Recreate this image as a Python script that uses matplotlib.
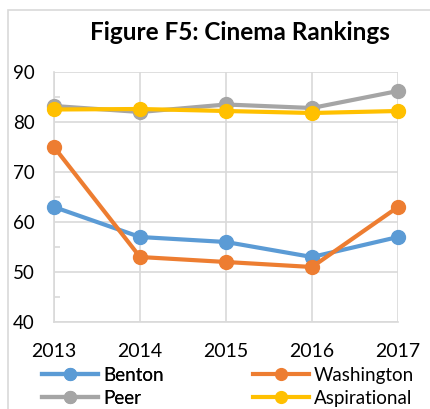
import matplotlib
matplotlib.use("Agg")
import matplotlib.pyplot as plt
from matplotlib.patches import Rectangle
from matplotlib.ticker import MultipleLocator

years = [2013, 2014, 2015, 2016, 2017]
benton = [63, 57, 56, 53, 57]
washington = [75, 53, 52, 51, 63]
peer = [83.2, 82.0, 83.5, 82.8, 86.2]
aspirational = [82.5, 82.6, 82.2, 81.8, 82.2]

series = [
    ("Benton", benton, "#5B9BD5"),
    ("Washington", washington, "#ED7D31"),
    ("Peer", peer, "#A5A5A5"),
    ("Aspirational", aspirational, "#FFC000"),
]

plt.rcParams['font.family'] = ['Lato', 'DejaVu Sans']

W, H = 431, 409
fig = plt.figure(figsize=(W / 100, H / 100), dpi=100)
fig.patch.set_facecolor("white")

# outer chart border
fig.patches.append(Rectangle((8 / W, -0.1), 1.2, (H - 10) / H + 0.1,
                             transform=fig.transFigure, fill=False,
                             edgecolor="#D9D9D9", linewidth=1.2))

ax = fig.add_axes([54 / W, (H - 322) / H, (398 - 54) / W, (322 - 72) / H])
ax.set_xlim(2013, 2017)
ax.set_ylim(40, 90)

handles = {}
for name, vals, col in series:
    h, = ax.plot(years, vals, color=col, linewidth=3, marker="o",
                 markersize=10, label=name, clip_on=False, zorder=3)
    handles[name] = h

ax.set_xticks(years)
ax.set_yticks([40, 50, 60, 70, 80, 90])
ax.yaxis.set_minor_locator(MultipleLocator(5))
ax.grid(True, which="major", color="#D9D9D9", linewidth=1.2)
ax.set_axisbelow(True)
for s in ["top", "right"]:
    ax.spines[s].set_visible(False)
for s in ["left", "bottom"]:
    ax.spines[s].set_color("#D9D9D9")
    ax.spines[s].set_linewidth(1.2)
ax.tick_params(axis="y", which="major", length=0, labelsize=13.5, pad=14)
ax.tick_params(axis="y", which="minor", length=4, direction="in", color="#D9D9D9", width=1.2)
ax.tick_params(axis="x", length=0, labelsize=14, pad=15)

fig.text(240 / W, 1 - 32 / H, "Figure F5: Cinema Rankings", ha="center", va="center",
         fontsize=17.5, fontweight="bold")

legend_kw = dict(loc="upper left", frameon=False, fontsize=13.5,
                 handlelength=3.0, handletextpad=0.25, labelspacing=0.3,
                 borderaxespad=0, borderpad=0, markerscale=0.85)
leg1 = fig.legend([handles["Benton"], handles["Peer"]], ["Benton", "Peer"],
                  bbox_to_anchor=(42 / W, 1 - 367 / H), **legend_kw)
fig.add_artist(leg1)
fig.legend([handles["Washington"], handles["Aspirational"]], ["Washington", "Aspirational"],
           bbox_to_anchor=(253 / W, 1 - 367 / H), **legend_kw)

fig.savefig("out.png", dpi=100)
